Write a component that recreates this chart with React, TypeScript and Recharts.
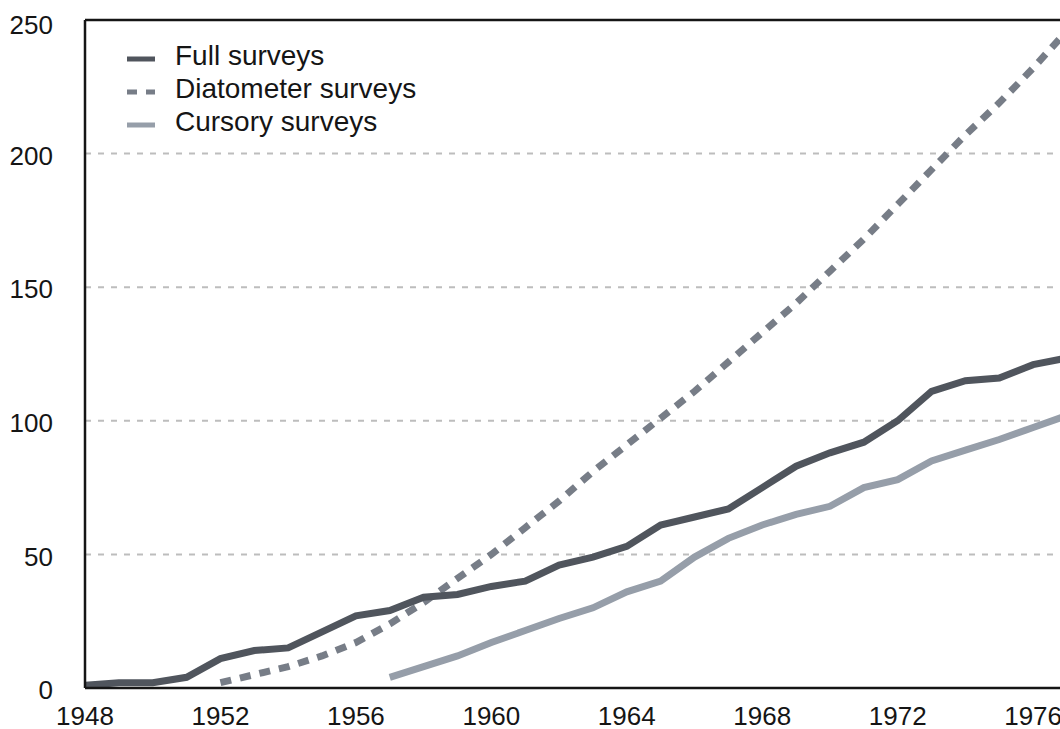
import React from 'react';
import { LineChart, Line, XAxis, YAxis, CartesianGrid, ReferenceLine, Legend } from 'recharts';

// values, one per year
const YEARS = [
  1948, 1949, 1950, 1951, 1952, 1953, 1954, 1955, 1956, 1957,
  1958, 1959, 1960, 1961, 1962, 1963, 1964, 1965, 1966, 1967,
  1968, 1969, 1970, 1971, 1972, 1973, 1974, 1975, 1976, 1977
];
const FULL_SURVEYS = [
  1, 2, 2, 4, 11, 14, 15, 21, 27, 29,
  34, 35, 38, 40, 46, 49, 53, 61, 64, 67,
  75, 83, 88, 92, 100, 111, 115, 116, 121, 123.5
];
const DIATOMETER_SURVEYS = [
  null, null, null, null, 2, 5, 8, 12, 17, 24,
  32, 41, 50, 60, 70, 81, 91, 101, 111, 122,
  133, 144, 156, 168, 181, 194, 207, 219, 232, 246
];
const CURSORY_SURVEYS = [
  null, null, null, null, null, null, null, null, null, 4,
  8, 12, 17, 21.5, 26, 30, 36, 40, 49, 56,
  61, 65, 68, 75, 78, 85, 89, 93, 97.5, 102
];
const X_TICKS = [1948, 1952, 1956, 1960, 1964, 1968, 1972, 1976];
const Y_TICKS = [0, 50, 100, 150, 200, 250];

const SERIES = [
  { key: 'full', name: 'Full surveys', color: '#50555d', dash: undefined },
  { key: 'diatometer', name: 'Diatometer surveys', color: '#777d87', dash: '10 9' },
  { key: 'cursory', name: 'Cursory surveys', color: '#969ea9', dash: undefined }
];

const data = YEARS.map((year, i) => ({
  year,
  full: FULL_SURVEYS[i],
  diatometer: DIATOMETER_SURVEYS[i],
  cursory: CURSORY_SURVEYS[i]
}));

const FONT = '"Liberation Sans", Arial, Helvetica, sans-serif';
const INK = '#151515';

const renderLegend = () => (
  <div style={{ fontFamily: FONT, fontSize: 28, color: INK }}>
    {SERIES.map((s) => (
      <div key={s.key} style={{ display: 'flex', alignItems: 'flex-start', height: 33, lineHeight: '33px' }}>
        <svg width={48} height={33} style={{ flex: 'none' }}>
          <line x1={0} x2={28} y1={20} y2={20} stroke={s.color} strokeWidth={5} strokeDasharray={s.dash ? '10 9' : undefined} />
        </svg>
        <span style={{ whiteSpace: 'nowrap' }}>{s.name}</span>
      </div>
    ))}
  </div>
);

export default function App() {
  return (
    <div style={{ position: 'fixed', top: 8, left: 8, width: 1052, height: 721, overflow: 'hidden', background: '#fff' }}>
      <LineChart width={1059} height={721} data={data} margin={{ top: 12, right: 0, left: 0, bottom: 0 }}>
        <CartesianGrid vertical={false} stroke="#bdbdbd" strokeWidth={2} strokeDasharray="6 7" />
        <XAxis
          dataKey="year"
          type="number"
          domain={[1948, 1977]}
          ticks={X_TICKS}
          height={41}
          tickLine={false}
          tickSize={0}
          tickMargin={19}
          axisLine={{ stroke: INK, strokeWidth: 2.5 }}
          tick={{ fill: INK, fontSize: 26, fontFamily: FONT }}
          allowDataOverflow
        />
        <YAxis
          type="number"
          domain={[0, 250]}
          ticks={Y_TICKS}
          width={77}
          tickLine={false}
          tickSize={0}
          tickMargin={32}
          axisLine={{ stroke: INK, strokeWidth: 2.5 }}
          tick={{ fill: INK, fontSize: 26, fontFamily: FONT, dy: 2 }}
        />
        <ReferenceLine y={250} stroke={INK} strokeWidth={2.5} />
        <Legend
          layout="horizontal"
          verticalAlign="middle"
          align="center"
          content={renderLegend}
          wrapperStyle={{ top: 31, left: 119, width: 'auto', height: 'auto' }}
        />
        <Line
          dataKey="diatometer"
          name="Diatometer surveys"
          type="linear"
          stroke="#777d87"
          strokeWidth={7}
          strokeDasharray="11 9"
          dot={false}
          activeDot={false}
          isAnimationActive={false}
        />
        <Line
          dataKey="cursory"
          name="Cursory surveys"
          type="linear"
          stroke="#969ea9"
          strokeWidth={7}
          dot={false}
          activeDot={false}
          isAnimationActive={false}
        />
        <Line
          dataKey="full"
          name="Full surveys"
          type="linear"
          stroke="#50555d"
          strokeWidth={7}
          dot={false}
          activeDot={false}
          isAnimationActive={false}
        />
      </LineChart>
    </div>
  );
}
